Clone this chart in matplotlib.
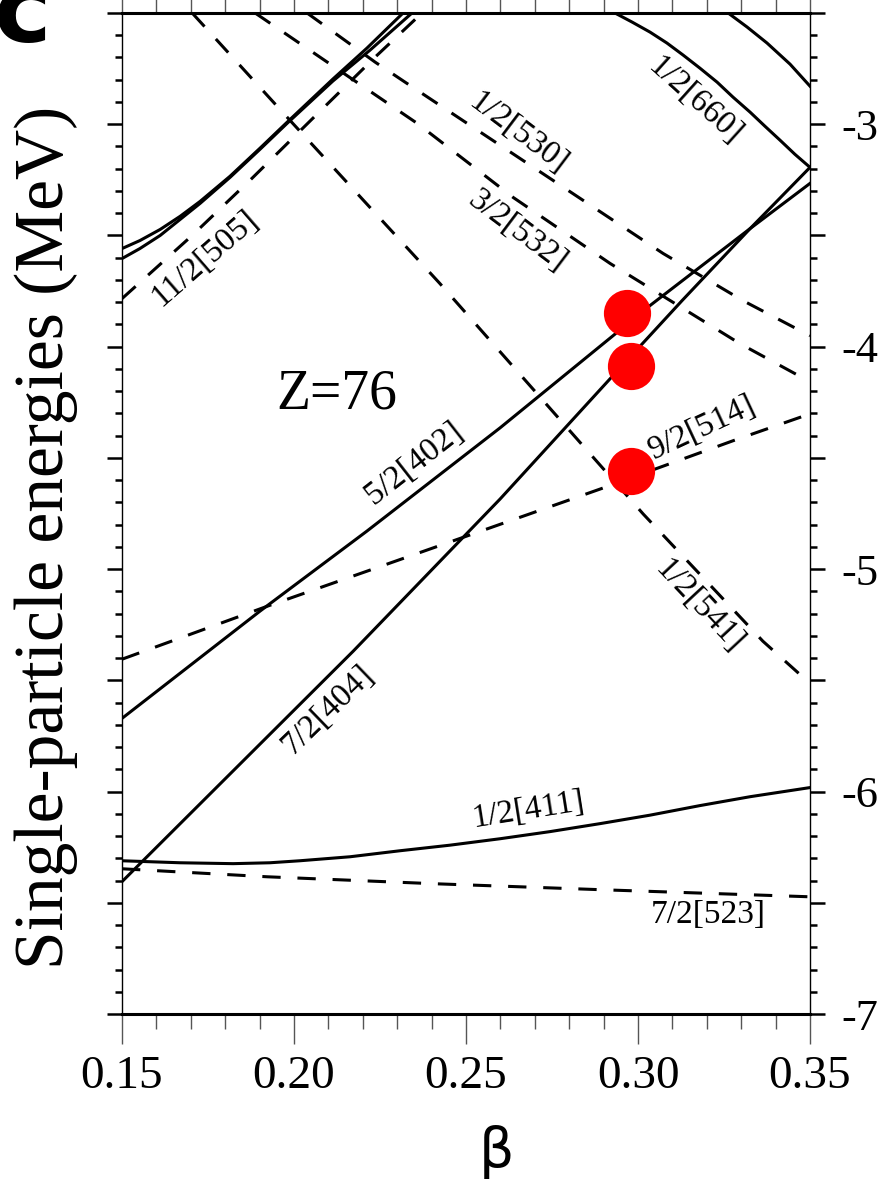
import matplotlib
matplotlib.use('Agg')
import matplotlib.pyplot as plt
from matplotlib.ticker import MultipleLocator, FuncFormatter

plt.rcParams['font.family'] = ['Liberation Serif', 'DejaVu Serif']
plt.rcParams['axes.unicode_minus'] = False

# --- DATA: single-particle levels (beta, E in MeV) ---
# solid = positive parity, dashed = negative parity
b_660 = [0.2933, 0.2983, 0.3035, 0.3084, 0.3131, 0.3180, 0.3230, 0.3276, 0.3326,
         0.3369, 0.3413, 0.3456, 0.3500]
e_660 = [-2.500, -2.541, -2.586, -2.635, -2.689, -2.748, -2.811, -2.878, -2.946,
         -3.009, -3.072, -3.135, -3.194]

b_top2 = [0.3262, 0.3317, 0.3375, 0.3442, 0.3500]
e_top2 = [-2.500, -2.563, -2.635, -2.730, -2.829]

b_upA = [0.1500, 0.1552, 0.1611, 0.1669, 0.1727, 0.1814, 0.1901, 0.1980, 0.2113, 0.2212, 0.2317]
e_upA = [-3.559, -3.523, -3.473, -3.414, -3.347, -3.234, -3.108, -2.991, -2.797, -2.658, -2.500]

b_upB = [0.1500, 0.1552, 0.1611, 0.1669, 0.1727, 0.1814, 0.1901, 0.1980, 0.2113, 0.2221, 0.2343]
e_upB = [-3.604, -3.559, -3.500, -3.428, -3.356, -3.239, -3.113, -2.996, -2.806, -2.667, -2.500]

b_505 = [0.1500, 0.1704, 0.1878, 0.2055, 0.2236, 0.2372]
e_505 = [-3.784, -3.500, -3.243, -2.973, -2.698, -2.500]

b_541 = [0.1704, 0.1988, 0.2424, 0.3015, 0.3363, 0.3500]
e_541 = [-2.500, -2.982, -3.716, -4.752, -5.324, -5.514]

b_530 = [0.2038, 0.2236, 0.2323, 0.2884, 0.3073, 0.3305, 0.3500]
e_530 = [-2.500, -2.721, -2.811, -3.387, -3.581, -3.793, -3.951]

b_532 = [0.1887, 0.2358, 0.2637, 0.2919, 0.3297, 0.3500]
e_532 = [-2.500, -2.996, -3.329, -3.626, -3.987, -4.158]

b_514 = [0.1500, 0.1922, 0.2503, 0.2890, 0.3276, 0.3500]
e_514 = [-5.405, -5.167, -4.851, -4.640, -4.423, -4.302]

b_402 = [0.1500, 0.1901, 0.2212, 0.2599, 0.3035, 0.3326, 0.3500]
e_402 = [-5.671, -5.189, -4.829, -4.365, -3.815, -3.469, -3.266]

b_404 = [0.1500, 0.2172, 0.2599, 0.2919, 0.3128, 0.3326, 0.3500]
e_404 = [-6.405, -5.369, -4.685, -4.144, -3.793, -3.469, -3.194]

b_411 = [0.1500, 0.1669, 0.1823, 0.1930, 0.2017, 0.2163, 0.2308, 0.2453, 0.2599,
         0.2744, 0.2890, 0.3035, 0.3180, 0.3326, 0.3500]
e_411 = [-6.311, -6.320, -6.324, -6.320, -6.311, -6.293, -6.266, -6.241, -6.212,
         -6.180, -6.144, -6.106, -6.063, -6.023, -5.982]

b_523 = [0.1500, 0.1922, 0.2404, 0.2890, 0.3500]
e_523 = [-6.347, -6.383, -6.414, -6.441, -6.473]

solid_levels = [(b_660, e_660), (b_top2, e_top2), (b_upA, e_upA), (b_upB, e_upB),
                (b_402, e_402), (b_404, e_404), (b_411, e_411)]
dashed_levels = [(b_505, e_505), (b_541, e_541), (b_530, e_530), (b_532, e_532),
                 (b_514, e_514), (b_523, e_523)]

# labels: text, beta, energy, rotation (deg on screen)
label_text = ['1/2[660]', '1/2[530]', '3/2[532]', '11/2[505]', '5/2[402]',
              '9/2[514]', '1/2[541]', '7/2[404]', '1/2[411]', '7/2[523]']
label_beta = [0.3166, 0.2651, 0.2648, 0.1741, 0.2349, 0.3186, 0.3177, 0.2099, 0.2680, 0.3203]
label_e = [-2.892, -3.041, -3.478, -3.604, -4.523, -4.365, -5.167, -5.631, -6.081, -6.554]
label_rot = [-42, -37, -37, 41, 38, 25, -47, 44, 9, 0]

# highlighted orbitals (red dots)
dot_beta = [0.2968, 0.2980, 0.2980]
dot_e = [-3.847, -4.086, -4.559]

# --- FIGURE ---
fig = plt.figure(figsize=(8.84, 11.92), dpi=100)
ax = fig.add_axes([0.138, 0.1493, 0.7783, 0.8398])

for b, e in solid_levels:
    ax.plot(b, e, color='black', lw=2.2, solid_joinstyle='round')
for b, e in dashed_levels:
    ax.plot(b, e, color='black', lw=2.2, linestyle=(0, (6, 5.5)))

for t, b, e, r in zip(label_text, label_beta, label_e, label_rot):
    ax.text(b, e, t, fontsize=24, rotation=r, rotation_mode='anchor',
            ha='center', va='center')

ax.text(0.2125, -4.216, 'Z=76', fontsize=40, ha='center', va='center')

ax.plot(dot_beta, dot_e, 'o', color='red', ms=34, mec='none', zorder=5, clip_on=False)

ax.set_xlim(0.15, 0.35)
ax.set_ylim(-7, -2.5)

# osie
ax.xaxis.set_major_locator(MultipleLocator(0.05))
ax.xaxis.set_minor_locator(MultipleLocator(0.01))
ax.xaxis.set_major_formatter(FuncFormatter(lambda v, p: f'{v:.2f}'))
ax.yaxis.set_major_locator(MultipleLocator(0.5))
ax.yaxis.set_minor_locator(MultipleLocator(0.1))
ax.yaxis.set_major_formatter(FuncFormatter(
    lambda v, p: f'{v:.0f}' if abs(v - round(v)) < 1e-6 else ''))

ax.tick_params(axis='x', which='both', direction='out', top=True, bottom=True,
               color='#555555', width=1.0, labelsize=34, pad=8)
ax.tick_params(axis='x', which='major', length=21.5)
ax.tick_params(axis='x', which='minor', length=10.8)
ax.tick_params(axis='y', which='both', direction='out', left=True, right=True,
               labelleft=False, labelright=True, color='black', width=1.8,
               labelsize=32, pad=12)
ax.tick_params(axis='y', which='major', length=10.8)
ax.tick_params(axis='y', which='minor', length=5.0)

for s in ['top', 'bottom']:
    ax.spines[s].set_linewidth(2.2)
for s in ['left', 'right']:
    ax.spines[s].set_linewidth(1.0)

fig.text(46 / 884, 1 - 537 / 1192, 'Single-particle energies (MeV)',
         fontsize=50, rotation=90, ha='center', va='center')
fig.text(496 / 884, 1 - 1152 / 1192, 'β', fontsize=40, family='DejaVu Sans',
         ha='center', va='center')
# panel letter, cut off by the top edge as in the original
fig.text(-6 / 884, 1 - 42 / 1192, 'c', fontsize=70, fontweight='bold',
         family='DejaVu Sans', ha='left', va='baseline')

plt.savefig('out.png', dpi=100)
